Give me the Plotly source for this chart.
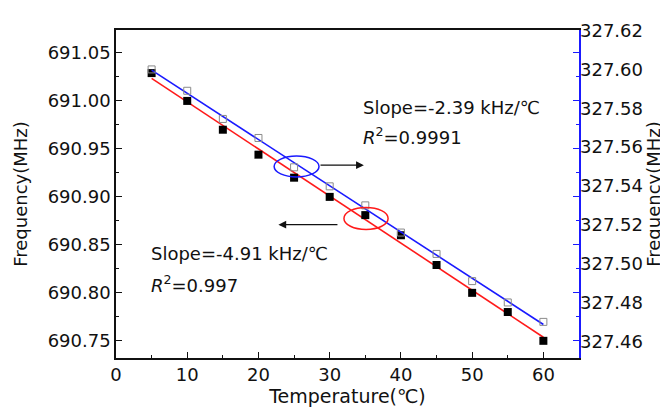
import numpy as np
import plotly.graph_objects as go

# temperature steps (degC)
temp = [5, 10, 15, 20, 25, 30, 35, 40, 45, 50, 55, 60]
# left axis series (filled squares), MHz
freq_left = [691.029, 691.000, 690.970, 690.944, 690.920, 690.900,
             690.881, 690.860, 690.829, 690.800, 690.780, 690.750]
# right axis series (open squares), MHz
freq_right = [327.600, 327.589, 327.5745, 327.5647, 327.5496, 327.5398,
              327.530, 327.516, 327.505, 327.491, 327.480, 327.470]

right_ticks = [327.46, 327.48, 327.50, 327.52, 327.54, 327.56, 327.58, 327.60, 327.62]

FONT = "DejaVu Sans"

t = np.array(temp, dtype=float)
kl, bl = np.polyfit(t, freq_left, 1)
kr, br = np.polyfit(t, freq_right, 1)
ends = np.array([t.min(), t.max()])

fig = go.Figure()
fig.add_trace(go.Scatter(x=ends, y=kl * ends + bl, mode="lines",
                         line=dict(color="#ff1a1a", width=1.6), hoverinfo="skip"))
fig.add_trace(go.Scatter(x=ends, y=kr * ends + br, mode="lines", yaxis="y2",
                         line=dict(color="#1a1aff", width=1.6), hoverinfo="skip"))
fig.add_trace(go.Scatter(x=temp, y=freq_left, mode="markers",
                         marker=dict(symbol="square", size=8, color="black")))
fig.add_trace(go.Scatter(x=temp, y=freq_right, mode="markers", yaxis="y2",
                         marker=dict(symbol="square-open", size=7, color="#8a8a8a",
                                     line=dict(width=1))))
# dummy trace so the blue right-hand tick axis gets drawn
fig.add_trace(go.Scatter(x=temp, y=freq_left, mode="markers", yaxis="y3",
                         marker=dict(opacity=0), hoverinfo="skip"))

yl_range = [690.7321, 691.0739]

# page body adds an 8px offset, so the figure is 8px smaller and shifted
fig.update_layout(
    width=660, height=405,
    margin=dict(l=106, r=89, t=13, b=48),
    plot_bgcolor="white", paper_bgcolor="white",
    showlegend=False,
    font=dict(family=FONT, size=18, color="#111"),
    xaxis=dict(
        range=[0, 65], tickmode="linear", tick0=0, dtick=10,
        ticks="inside", ticklen=6, tickcolor="#111",
        minor=dict(ticks="inside", ticklen=3, dtick=5, tickcolor="#111"),
        showline=True, linecolor="#111", linewidth=1.5, mirror=True,
        showgrid=False, zeroline=False,
        title=dict(text="Temperature(℃)", font=dict(size=19), standoff=2),
    ),
    yaxis=dict(
        range=yl_range, tickmode="linear", tick0=690.75, dtick=0.05,
        tickformat=".2f",
        ticks="inside", ticklen=6, tickcolor="#111",
        minor=dict(ticks="inside", ticklen=3, dtick=0.025, tickcolor="#111"),
        showline=True, linecolor="#111", linewidth=1.5,
        showgrid=False, zeroline=False,
        title=dict(text="Frequency(MHz)", font=dict(size=18)),
    ),
    yaxis2=dict(
        range=[327.4514, 327.6203], overlaying="y", side="right",
        tickmode="array", tickvals=right_ticks, tickformat=".2f",
        ticks="", showline=False, showgrid=False, zeroline=False,
        title=dict(text="Frequency(MHz)", font=dict(size=18), standoff=0),
    ),
    yaxis3=dict(
        range=yl_range, overlaying="y", side="right",
        tickmode="linear", tick0=690.75, dtick=0.05,
        ticks="inside", ticklen=6, tickcolor="#1a1aff",
        minor=dict(ticks="inside", ticklen=3, dtick=0.025, tickcolor="#1a1aff"),
        showticklabels=False, showline=True, linecolor="#1a1aff", linewidth=1.5,
        showgrid=False, zeroline=False,
    ),
)

# ellipses marking which line belongs to which axis
fig.add_shape(type="circle", xref="x", yref="y", x0=22.2, x1=28.5, y0=690.9208, y1=690.9426,
              line=dict(color="#1a1aff", width=1.5))
fig.add_shape(type="circle", xref="x", yref="y", x0=32.0, x1=38.2, y0=690.866, y1=690.889,
              line=dict(color="#ff1a1a", width=1.5))

# arrows
fig.add_annotation(x=34.8, y=690.933, ax=28.5, ay=690.933, xref="x", yref="y",
                   axref="x", ayref="y", text="", showarrow=True,
                   arrowhead=2, arrowsize=1.2, arrowwidth=1.3, arrowcolor="#111")
fig.add_annotation(x=22.8, y=690.871, ax=31.3, ay=690.871, xref="x", yref="y",
                   axref="x", ayref="y", text="", showarrow=True,
                   arrowhead=2, arrowsize=1.2, arrowwidth=1.3, arrowcolor="#111")

txt = dict(xref="paper", yref="paper", xanchor="left", yanchor="middle",
           showarrow=False, font=dict(size=18, color="#111"))
fig.add_annotation(x=0.529, y=0.7645, text="Slope=-2.39 kHz/℃", **txt)
fig.add_annotation(x=0.529, y=0.677, text="<i>R</i><sup>2</sup>=0.9991", **txt)
fig.add_annotation(x=0.071, y=0.32, text="Slope=-4.91 kHz/℃", **txt)
fig.add_annotation(x=0.071, y=0.227, text="<i>R</i><sup>2</sup>=0.997", **txt)

fig.write_html("out.html")
